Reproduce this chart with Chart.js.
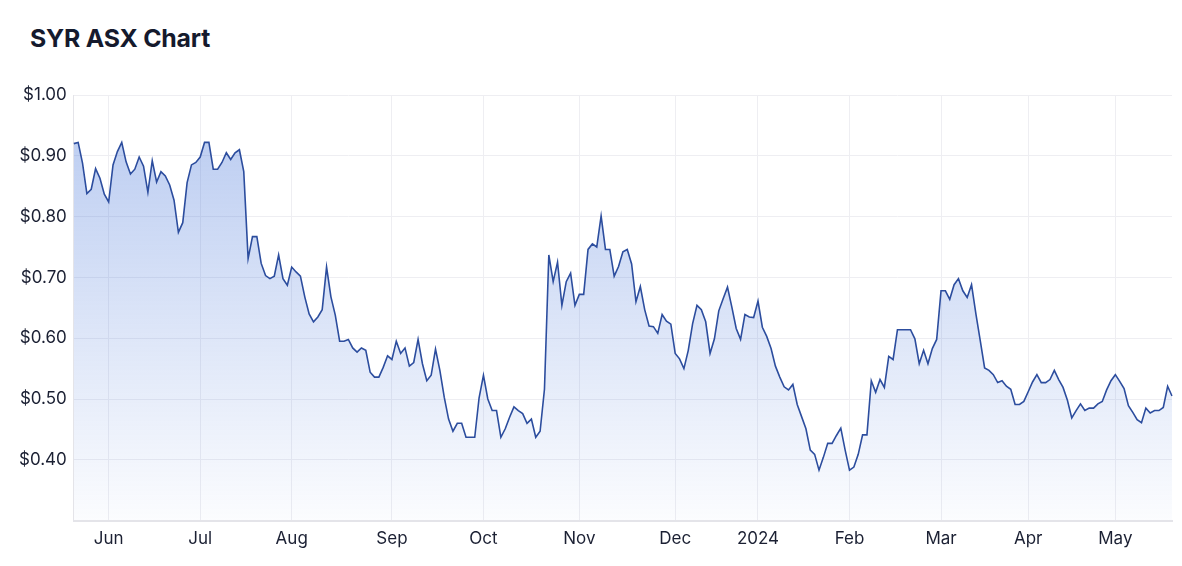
<!DOCTYPE html>
<html>
<head>
<meta charset="utf-8">
<script src="https://cdn.jsdelivr.net/npm/chart.js@4.4.1/dist/chart.umd.min.js"></script>
<style>
  html, body { margin: 0; padding: 0; background: #fff; }
  #wrap { position: relative; width: 1182px; height: 566px; }
  #title {
    position: absolute; left: 30px; top: 23px;
    font: 700 24.8px Inter, "Noto Sans", sans-serif;
    color: #151a2d; letter-spacing: -0.2px;
  }
  #box { position: absolute; left: 0; top: 0; width: 1182px; height: 566px; }
</style>
</head>
<body>
<div id="wrap">
  <div id="title">SYR ASX Chart</div>
  <div id="box"><canvas id="chart"></canvas></div>
</div>
<script>
// month segments of the x axis (trading days per month, May 2023 .. May 2024)
const MONTHS = ["May", "Jun", "Jul", "Aug", "Sep", "Oct", "Nov", "Dec", "2024", "Feb", "Mar", "Apr", "May"];
const TRADING_DAYS = [8, 21, 21, 23, 21, 22, 22, 19, 21, 21, 20, 20, 14];

// daily close, A$
const PRICES = [
  0.920, 0.922, 0.888, 0.838, 0.845, 0.879, 0.863, 0.837, 0.824, 0.885,
  0.907, 0.922, 0.890, 0.870, 0.878, 0.898, 0.883, 0.840, 0.892, 0.857,
  0.874, 0.867, 0.852, 0.827, 0.774, 0.790, 0.856, 0.885, 0.889, 0.898,
  0.922, 0.922, 0.878, 0.878, 0.889, 0.905, 0.894, 0.905, 0.910, 0.874,
  0.731, 0.767, 0.767, 0.723, 0.703, 0.698, 0.702, 0.737, 0.698, 0.687,
  0.717, 0.709, 0.702, 0.668, 0.640, 0.627, 0.635, 0.647, 0.717, 0.668,
  0.638, 0.595, 0.595, 0.598, 0.584, 0.577, 0.584, 0.580, 0.544, 0.536,
  0.536, 0.552, 0.571, 0.565, 0.595, 0.575, 0.584, 0.554, 0.560, 0.598,
  0.558, 0.530, 0.539, 0.582, 0.547, 0.503, 0.467, 0.447, 0.460, 0.460,
  0.437, 0.437, 0.437, 0.502, 0.539, 0.500, 0.481, 0.481, 0.437, 0.451,
  0.470, 0.487, 0.481, 0.476, 0.460, 0.467, 0.437, 0.447, 0.516, 0.737,
  0.693, 0.725, 0.654, 0.693, 0.707, 0.654, 0.672, 0.672, 0.746, 0.755,
  0.750, 0.801, 0.746, 0.746, 0.702, 0.718, 0.742, 0.746, 0.722, 0.660,
  0.685, 0.647, 0.620, 0.619, 0.608, 0.639, 0.628, 0.623, 0.575, 0.566,
  0.550, 0.580, 0.624, 0.654, 0.647, 0.627, 0.575, 0.599, 0.645, 0.665,
  0.684, 0.651, 0.616, 0.598, 0.639, 0.635, 0.634, 0.661, 0.618, 0.603,
  0.583, 0.554, 0.536, 0.520, 0.515, 0.524, 0.491, 0.471, 0.451, 0.416,
  0.409, 0.383, 0.404, 0.427, 0.427, 0.440, 0.452, 0.416, 0.383, 0.388,
  0.409, 0.441, 0.441, 0.530, 0.511, 0.532, 0.519, 0.570, 0.565, 0.614,
  0.614, 0.614, 0.614, 0.599, 0.558, 0.580, 0.558, 0.583, 0.598, 0.678,
  0.678, 0.664, 0.688, 0.698, 0.678, 0.667, 0.688, 0.640, 0.596, 0.551,
  0.547, 0.540, 0.527, 0.530, 0.521, 0.516, 0.491, 0.491, 0.496, 0.512,
  0.528, 0.540, 0.527, 0.527, 0.532, 0.547, 0.532, 0.519, 0.498, 0.469,
  0.481, 0.492, 0.481, 0.485, 0.485, 0.492, 0.496, 0.515, 0.530, 0.540,
  0.529, 0.517, 0.489, 0.478, 0.466, 0.461, 0.485, 0.477, 0.481, 0.481,
  0.486, 0.521, 0.505,
];

const Y_MIN = 0.3;
const Y_MAX = 1.0;

// one label per trading day, plus the index where each month starts
const labels = [];
const monthStarts = [];
MONTHS.forEach((m, k) => {
  if (k > 0) monthStarts.push(labels.length);
  for (let d = 0; d < TRADING_DAYS[k]; d++) labels.push(m);
});

const FONT = { family: "Inter, 'Noto Sans', sans-serif", size: 17 };
const TEXT = "#1b2033";
const GRID = "#eeeef2";

new Chart(document.getElementById("chart"), {
  type: "line",
  data: {
    labels,
    datasets: [
      {
        data: PRICES,
        borderColor: "#2c4d9e",
        borderWidth: 1.6,
        pointRadius: 0,
        tension: 0,
        fill: "start",
        backgroundColor: (ctx) => {
          const area = ctx.chart.chartArea;
          if (!area) return "rgba(66,114,216,0.2)";
          const g = ctx.chart.ctx.createLinearGradient(0, area.top, 0, area.bottom);
          g.addColorStop(0, "rgba(66,114,216,0.38)");
          g.addColorStop(1, "rgba(66,114,216,0.02)");
          return g;
        },
      },
    ],
  },
  options: {
    responsive: true,
    maintainAspectRatio: false,
    animation: false,
    layout: { padding: { top: 95, right: 10, bottom: 9, left: 12 } },
    plugins: { legend: { display: false }, tooltip: { enabled: false } },
    scales: {
      x: {
        type: "category",
        offset: false,
        afterBuildTicks: (scale) => {
          scale.ticks = monthStarts.map((i) => ({ value: i }));
        },
        ticks: {
          autoSkip: false,
          maxRotation: 0,
          padding: 8,
          color: TEXT,
          font: FONT,
          callback: (v) => labels[v],
        },
        grid: { color: GRID, drawTicks: false },
        border: { color: "#e4e4e9", width: 2 },
      },
      y: {
        min: Y_MIN,
        max: Y_MAX,
        ticks: {
          stepSize: 0.1,
          padding: 7,
          color: TEXT,
          font: FONT,
          callback: (v) => (Math.abs(v - Y_MIN) < 1e-6 ? "" : "$" + v.toFixed(2)),
        },
        grid: { color: GRID, drawTicks: false },
        border: { color: "#e4e4e9" },
      },
    },
  },
});
</script>
</body>
</html>
